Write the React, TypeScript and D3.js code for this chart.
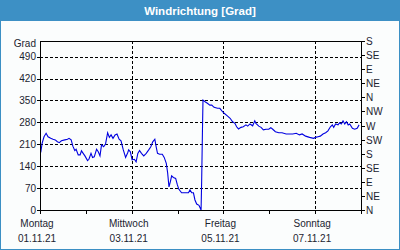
import React from "react";
import * as d3 from "d3";

const hours = [0.4,1.1,2.1,3.2,4.2,5.6,6.8,8.0,9.1,10.1,11.2,13.0,14.4,15.2,16.3,17.2,18.2,18.9,20.0,21.0,21.7,22.6,23.5,24.9,25.6,26.7,27.5,28.4,29.6,30.5,31.4,32.2,33.3,34.3,35.4,36.3,37.2,38.2,39.3,40.3,41.4,42.4,43.6,44.8,45.9,46.4,47.3,48.2,49.4,50.3,51.2,52.1,53.1,54.3,55.6,56.9,58.0,59.0,60.1,60.8,61.5,62.6,64.0,65.0,66.1,66.8,67.5,68.2,68.9,69.8,71.0,71.9,72.7,74.1,76.2,77.7,78.5,79.4,80.3,81.1,82.0,83.2,84.0,84.3,84.6,85.0,85.3,86.4,87.6,88.9,89.9,91.1,92.9,94.1,95.2,96.4,98.2,99.5,100.8,102.0,102.9,103.9,105.2,106.4,107.8,108.7,109.9,111.3,112.4,113.0,114.5,115.7,116.9,118.3,119.7,120.8,121.8,123.2,125.0,126.7,128.8,132.3,134.1,135.8,137.2,139.0,141.1,143.2,144.2,145.5,146.7,148.1,149.5,150.7,152.0,153.0,153.7,154.7,156.0,156.8,157.7,158.6,159.5,160.4,161.3,162.1,163.5,164.7,166.0,167.0];
const degrees = [184,213,234,245,234,229,226,224,218,215,221,224,226,229,224,204,190,194,176,176,189,181,173,158,162,181,168,170,194,186,173,208,202,211,247,232,240,229,240,243,226,221,192,168,183,192,186,160,162,154,181,190,181,173,181,192,202,218,226,202,181,178,178,168,149,119,74,90,109,104,101,80,66,55,55,55,64,55,55,32,19,15,4,0,90,245,351,346,341,335,335,328,325,325,317,309,300,293,282,277,266,259,264,266,272,268,275,269,285,277,268,264,256,258,258,263,258,250,247,247,243,243,245,240,243,236,232,229,232,234,236,243,247,253,266,272,264,275,272,279,275,285,275,282,272,275,261,258,261,272];

const leftTicks = [0, 70, 140, 210, 280, 350, 420, 490];
const rightTicks = [0, 45, 90, 135, 180, 225, 270, 315, 360, 405, 450, 495, 540];
const rightLabels = ["N", "NE", "E", "SE", "S", "SW", "W", "NW", "N", "NE", "E", "SE", "S"];
const dayHours = [0, 48, 96, 144];
const dayNames = ["Montag", "Mittwoch", "Freitag", "Sonntag"];
const dayDates = ["01.11.21", "03.11.21", "05.11.21", "07.11.21"];
const minorHours = [24, 72, 120, 168];

const W = 400, H = 250;
const L = 40, R = 361, T = 41, B = 210;
const font = "Tahoma, 'Liberation Sans', Arial, sans-serif";
const textColor = "#1c2430";

export default function App() {
  const x = d3.scaleLinear().domain([0, 168]).range([L, R]);
  const y = d3.scaleLinear().domain([0, 540]).range([B, T]);
  const line = d3.line<number>().x((_, i) => x(hours[i])).y((d) => y(d));
  const path = line(degrees) || "";
  return (
    <svg width={W} height={H} style={{ position: "absolute", left: 0, top: 0 }}>
      <rect x={0.5} y={0.5} width={W - 1} height={H - 1} fill="#fbfdfd" stroke="#3b8fc4" />
      <rect x={0} y={0} width={W} height={21} fill="#3d90c5" />
      <text x={W / 2} y={14.5} textAnchor="middle" fill="#fff" fontFamily={font} fontWeight="bold" fontSize={11.5}>
        Windrichtung [Grad]
      </text>
      {leftTicks.slice(1).map((t) => (
        <line key={"h" + t} x1={L} x2={R} y1={Math.round(y(t)) + 0.5} y2={Math.round(y(t)) + 0.5} stroke="#000" strokeDasharray="3,2" />
      ))}
      {dayHours.slice(1).map((h) => (
        <line key={"v" + h} x1={Math.round(x(h)) + 0.5} x2={Math.round(x(h)) + 0.5} y1={T} y2={B} stroke="#000" strokeDasharray="3,2" />
      ))}
      <path d={path} fill="none" stroke="#0000e0" strokeWidth={1.1} />
      <rect x={L + 0.5} y={T + 0.5} width={R - L} height={B - T} fill="none" stroke="#000" />
      {leftTicks.map((t) => (
        <g key={"lt" + t}>
          <line x1={L - 3} x2={L} y1={Math.round(y(t)) + 0.5} y2={Math.round(y(t)) + 0.5} stroke="#000" />
          <text x={L - 4} y={y(t) + 3.5} textAnchor="end" fontFamily={font} fontSize={10} fill={textColor}>{t}</text>
        </g>
      ))}
      <text x={L - 4} y={T + 6} textAnchor="end" fontFamily={font} fontSize={10} fill={textColor}>Grad</text>
      {rightTicks.map((t, i) => (
        <g key={"rt" + t}>
          <line x1={R} x2={R + 4} y1={Math.round(y(t)) + 0.5} y2={Math.round(y(t)) + 0.5} stroke="#000" />
          <text x={R + 5} y={y(t) + 4} textAnchor="start" fontFamily={font} fontSize={10} fill={textColor}>{rightLabels[i]}</text>
        </g>
      ))}
      {dayHours.concat(minorHours).map((h) => (
        <line key={"xt" + h} x1={Math.round(x(h)) + 0.5} x2={Math.round(x(h)) + 0.5} y1={B} y2={B + 4} stroke="#000" />
      ))}
      {dayHours.map((h, i) => (
        <g key={"xl" + h}>
          <text x={x(h) - 3} y={227} textAnchor="middle" fontFamily={font} fontSize={10} fill={textColor}>{dayNames[i]}</text>
          <text x={x(h) - 3} y={242} textAnchor="middle" fontFamily={font} fontSize={10} fill={textColor}>{dayDates[i]}</text>
        </g>
      ))}
    </svg>
  );
}
